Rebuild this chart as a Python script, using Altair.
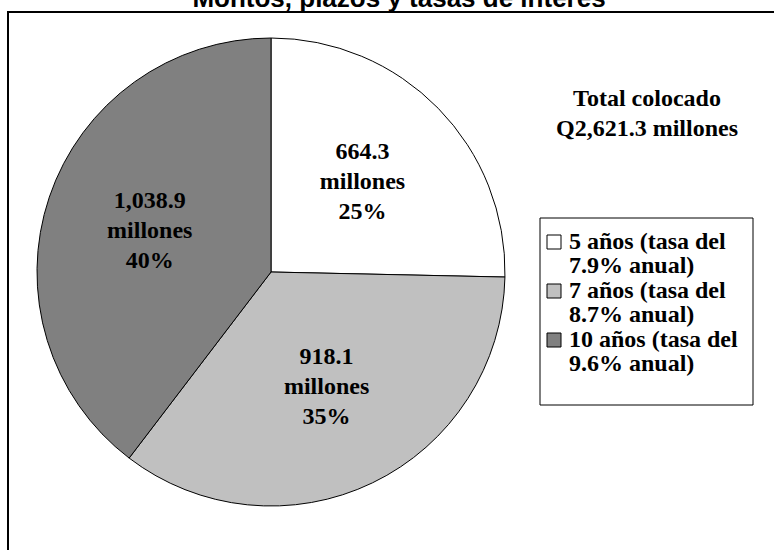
import altair as alt
import pandas as pd

# Data
categorias = ["5 años (tasa del|7.9% anual)", "7 años (tasa del|8.7% anual)", "10 años (tasa del|9.6% anual)"]
montos = [664.3, 918.1, 1038.9]
orden = [0, 1, 2]
colores = ["#FFFFFF", "#C0C0C0", "#808080"]
titulo = "Montos, plazos y tasas de interés"

total = round(sum(montos), 1)
df = pd.DataFrame({"categoria": categorias, "monto": montos, "orden": orden})

base = alt.Chart(df).transform_joinaggregate(
    total="sum(monto)"
).transform_calculate(
    etiqueta="format(datum.monto, ',.1f') + '|millones|' + (round(datum.monto / datum.total * 100) + '%')",
)

color = alt.Color(
    "categoria:N",
    sort=categorias,
    scale=alt.Scale(domain=categorias, range=colores),
    legend=alt.Legend(
        orient="none",
        legendX=535,
        legendY=223,
        title=None,
        padding=7,
        symbolType="square",
        symbolSize=196,
        symbolStrokeColor="black",
        symbolStrokeWidth=1,
        labelFont="Liberation Serif",
        labelFontSize=24,
        labelFontWeight="bold",
        labelColor="black",
        labelLimit=400,
        labelOffset=3,
        labelExpr="split(datum.label, '|')",
        rowPadding=1,
    ),
)

arcs = base.mark_arc(radius=234, stroke="black", strokeWidth=1).encode(
    theta=alt.Theta("monto:Q", stack=True),
    order=alt.Order("orden:Q"),
    color=color,
    x=alt.value(271),
    y=alt.value(272),
)

labels = base.mark_text(
    radius=128,
    font="Liberation Serif",
    fontSize=24,
    fontWeight="bold",
    color="black",
    lineBreak="|",
    lineHeight=30,
    align="center",
    baseline="middle",
    dy=-30,
).encode(
    theta=alt.Theta("monto:Q", stack=True),
    order=alt.Order("orden:Q"),
    text="etiqueta:N",
    x=alt.value(271),
    y=alt.value(272),
)

total_df = pd.DataFrame({"t": ["Total colocado|Q" + f"{total:,.1f}" + " millones"]})
total_text = alt.Chart(total_df).mark_text(
    font="Liberation Serif",
    fontSize=24,
    fontWeight="bold",
    color="black",
    lineBreak="|",
    lineHeight=30,
    align="center",
    baseline="alphabetic",
).encode(text="t:N", x=alt.value(647), y=alt.value(106))

title_df = pd.DataFrame({"t": [titulo]})
title_text = alt.Chart(title_df).mark_text(
    font="Liberation Sans",
    fontSize=26,
    fontWeight="bold",
    color="black",
    align="center",
    baseline="alphabetic",
).encode(text="t:N", x=alt.value(399), y=alt.value(7))

one = pd.DataFrame({"a": [0]})
frame = alt.Chart(one).mark_rect(
    fillOpacity=0, stroke="black", strokeWidth=2
).encode(x=alt.value(8), x2=alt.value(778), y=alt.value(12), y2=alt.value(580))

legend_box = alt.Chart(one).mark_rect(
    fill="white", stroke="black", strokeWidth=1
).encode(x=alt.value(540), x2=alt.value(753), y=alt.value(218), y2=alt.value(405))

chart = alt.layer(frame, legend_box, arcs, labels, total_text, title_text).properties(
    width=774,
    height=550,
    autosize=alt.AutoSizeParams(type="none"),
    padding=0,
    background="white",
).configure(
    view=alt.ViewConfig(strokeOpacity=0),
    style={"guide-label": {"lineHeight": 24}},
)

chart.save("out.html", embed_options={"renderer": "svg", "actions": False})
